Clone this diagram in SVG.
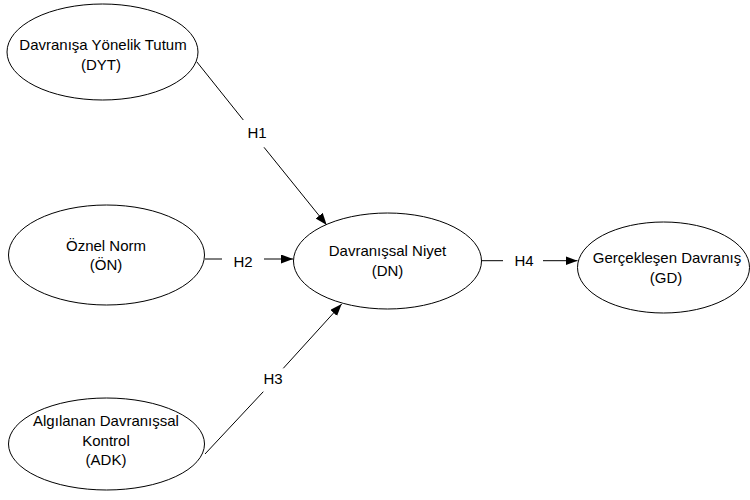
<svg xmlns="http://www.w3.org/2000/svg" width="750" height="500" viewBox="0 0 750 500">
<style>
  .node ellipse { fill: #ffffff; stroke: #000000; stroke-width: 1; }
  .node text, .label { font-family: "Liberation Sans", Arial, sans-serif; font-size: 15px; fill: #000000; text-anchor: middle; }
  .conn line { stroke: #000000; stroke-width: 1; fill: none; }
</style>
<defs>
  <marker id="arrow" markerUnits="userSpaceOnUse" markerWidth="13" markerHeight="10" refX="12" refY="4.5" orient="auto">
    <path d="M0,0 L12,4.5 L0,9 z" fill="#000000"/>
  </marker>
</defs>
<rect width="750" height="500" fill="#ffffff"/>
<g id="node-dyt" class="node">
  <ellipse cx="102.5" cy="52" rx="95.5" ry="48"/>
  <text x="103" y="49.5">Davranışa Yönelik Tutum</text>
  <text x="101" y="70">(DYT)</text>
</g>
<g id="node-on" class="node">
  <ellipse cx="106.5" cy="255" rx="98" ry="50"/>
  <text x="106" y="251">Öznel Norm</text>
  <text x="106" y="270">(ÖN)</text>
</g>
<g id="node-adk" class="node">
  <ellipse cx="106.5" cy="444" rx="98" ry="46"/>
  <text x="106" y="426">Algılanan Davranışsal</text>
  <text x="106" y="445.5">Kontrol</text>
  <text x="106" y="465">(ADK)</text>
</g>
<g id="node-dn" class="node">
  <ellipse cx="387.5" cy="261" rx="94" ry="48"/>
  <text x="387.5" y="256">Davranışsal Niyet</text>
  <text x="387.5" y="275.5">(DN)</text>
</g>
<g id="node-gd" class="node">
  <ellipse cx="663.5" cy="267.5" rx="86" ry="45.5"/>
  <text x="667" y="263.3">Gerçekleşen Davranış</text>
  <text x="666" y="282.7">(GD)</text>
</g>
<g id="connectors" class="conn">
  <line x1="196.7" y1="61.7" x2="243.3" y2="120"/>
  <line x1="264" y1="147.3" x2="326.7" y2="225" marker-end="url(#arrow)"/>
  <text class="label" x="257" y="138.3">H1</text>
  <line x1="205" y1="259" x2="222" y2="259"/>
  <line x1="264" y1="259" x2="293" y2="259" marker-end="url(#arrow)"/>
  <text class="label" x="243" y="267">H2</text>
  <line x1="205" y1="454" x2="263.3" y2="391.7"/>
  <line x1="283.3" y1="368.3" x2="341.7" y2="304" marker-end="url(#arrow)"/>
  <text class="label" x="273" y="384">H3</text>
  <line x1="482" y1="260.7" x2="503" y2="260.7"/>
  <line x1="543" y1="260.7" x2="577.5" y2="260.7" marker-end="url(#arrow)"/>
  <text class="label" x="524" y="266">H4</text>
</g>
</svg>
